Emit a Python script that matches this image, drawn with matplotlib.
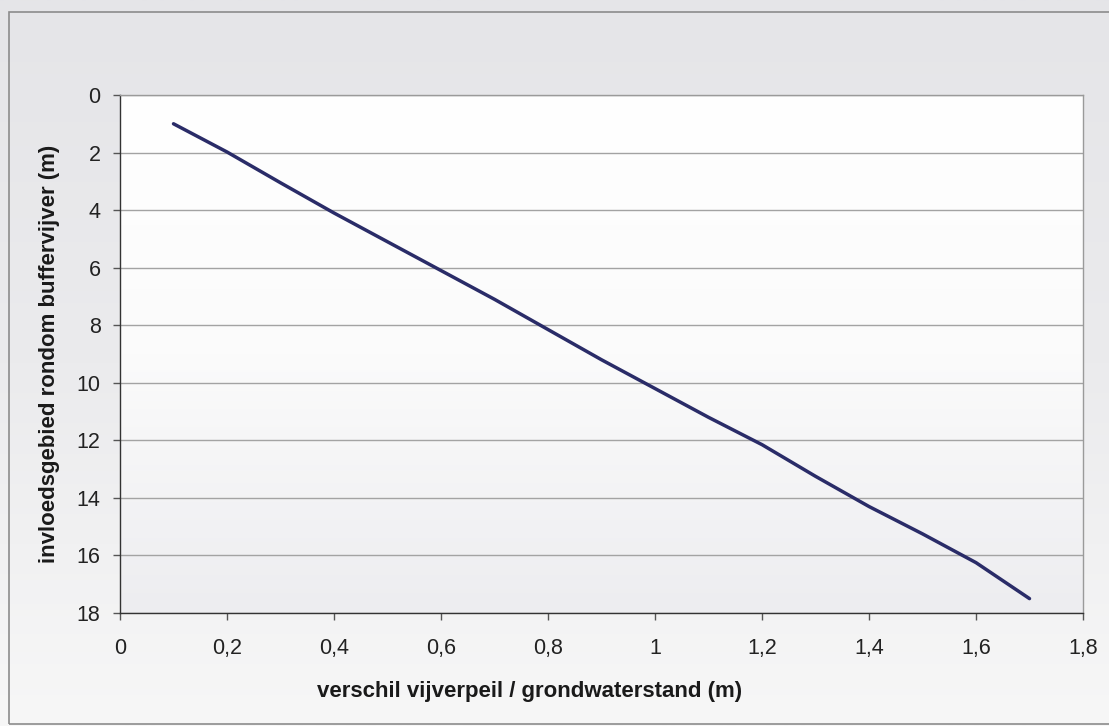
import numpy as np
import matplotlib
matplotlib.use("Agg")
import matplotlib.pyplot as plt
from matplotlib.patches import Rectangle
from matplotlib.ticker import FuncFormatter
from matplotlib.colors import LinearSegmentedColormap

# Data
verschil = [0.1, 0.2, 0.3, 0.4, 0.5, 0.6, 0.7, 0.8, 0.9, 1.0, 1.1, 1.2, 1.3, 1.4, 1.5, 1.6, 1.7]
invloed = [1.0, 1.98, 3.05, 4.1, 5.1, 6.1, 7.1, 8.15, 9.2, 10.2, 11.2, 12.15, 13.25, 14.3, 15.25, 16.25, 17.5]
x_ticks = [0, 0.2, 0.4, 0.6, 0.8, 1.0, 1.2, 1.4, 1.6, 1.8]
y_ticks = [0, 2, 4, 6, 8, 10, 12, 14, 16, 18]
x_label = "verschil vijverpeil / grondwaterstand (m)"
y_label = "invloedsgebied rondom buffervijver (m)"

plt.rcParams['font.family'] = ['Liberation Sans', 'DejaVu Sans']

W, H = 1109, 726
fig = plt.figure(figsize=(W / 100, H / 100), dpi=100)
fig.patch.set_facecolor('#f3f3f3')

# background gradient for the chart area (scanned look)
bg = fig.add_axes([0, 0, 1, 1], zorder=-10)
grad = np.linspace(0, 1, 256).reshape(-1, 1)
cm_bg = LinearSegmentedColormap.from_list('bg', ['#e5e5e8', '#ebebed', '#f7f7f7'])
bg.imshow(grad, aspect='auto', cmap=cm_bg, extent=[0, 1, 0, 1], origin='upper')
bg.set_axis_off()

# chart area border
fig.patches.append(Rectangle((9 / W, 1 - 724 / H), 1.2, (724 - 12) / H,
                             transform=fig.transFigure, fill=False,
                             edgecolor='#8c8c8c', linewidth=1.2, zorder=5))

left, right, top, bottom = 120, 1083, 95, 613
ax = fig.add_axes([left / W, 1 - bottom / H, (right - left) / W, (bottom - top) / H])
ax.set_facecolor('none')
cm_pa = LinearSegmentedColormap.from_list('pa', ['#ffffff', '#fbfbfb', '#ededf0'])
ax.imshow(grad, aspect='auto', cmap=cm_pa, extent=[0, 1.8, 18, 0], origin='upper', zorder=0)

ax.plot(verschil, invloed, color='#2a2c68', linewidth=2.5, solid_capstyle='round',
        solid_joinstyle='round', zorder=3)

ax.set_xlim(0, 1.8)
ax.set_ylim(18, 0)
ax.set_xticks(x_ticks)
ax.set_yticks(y_ticks)
fmt = FuncFormatter(lambda v, p: ('%g' % round(v, 2)).replace('.', ','))
ax.xaxis.set_major_formatter(fmt)
ax.yaxis.set_major_formatter(fmt)
ax.grid(axis='y', color='#a3a3a3', linewidth=1.0, zorder=1)
ax.set_axisbelow(True)

for s in ['top', 'right']:
    ax.spines[s].set_color('#9a9a9a')
    ax.spines[s].set_linewidth(1.0)
for s in ['left', 'bottom']:
    ax.spines[s].set_color('#333333')
    ax.spines[s].set_linewidth(1.0)

ax.tick_params(axis='both', direction='out', length=5, width=1, color='#555555',
               labelsize=15.5, labelcolor='#222222')
ax.tick_params(axis='x', pad=13)
ax.tick_params(axis='y', pad=9)

fig.text(530 / W, 1 - 692 / H, x_label, ha='center', va='center',
         fontsize=16, fontweight='bold', color='#1a1a1a')
fig.text(50 / W, 1 - 354 / H, y_label, ha='center', va='center', rotation=90,
         fontsize=16, fontweight='bold', color='#1a1a1a')

fig.savefig('out.png', dpi=100, facecolor=fig.get_facecolor())
